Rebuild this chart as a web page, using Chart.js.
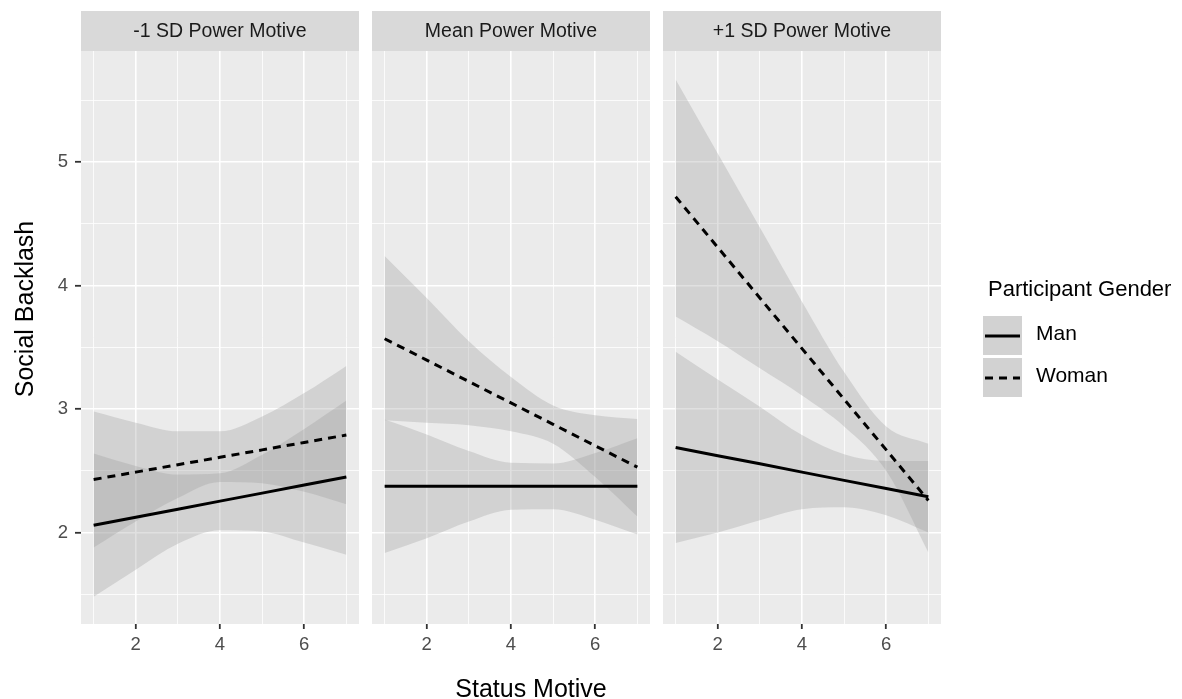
<!DOCTYPE html>
<html>
<head>
<meta charset="utf-8">
<script src="https://cdn.jsdelivr.net/npm/chart.js@4.4.1/dist/chart.umd.min.js"></script>
<style>
  body { margin: 0; background: #fff; }
  #wrap { position: relative; width: 1182px; height: 699px; overflow: hidden; }
  canvas { position: absolute; top: 0; }
</style>
</head>
<body>
<div id="wrap">
  <canvas id="p1" width="359" height="699" style="left:0px"></canvas>
  <canvas id="p2" width="278" height="699" style="left:372px"></canvas>
  <canvas id="p3" width="519" height="699" style="left:663px"></canvas>
</div>
<script>
const statusMotive = [1, 2, 3, 4, 5, 6, 7];
const panelTitles = ["-1 SD Power Motive", "Mean Power Motive", "+1 SD Power Motive"];
const seriesNames = ["Man", "Woman"];
const xMajorTicks = [2, 4, 6];
const xMinorTicks = [1, 3, 5, 7];
const yMajorTicks = [2, 3, 4, 5];
const yMinorTicks = [1.5, 2.5, 3.5, 4.5, 5.5];

// fitted lines, one row per panel
const manFit = [
  [2.06, 2.125, 2.19, 2.255, 2.32, 2.385, 2.45],
  [2.375, 2.375, 2.375, 2.375, 2.375, 2.375, 2.375],
  [2.69, 2.623, 2.557, 2.49, 2.423, 2.357, 2.29]
];
const womanFit = [
  [2.43, 2.49, 2.55, 2.61, 2.67, 2.73, 2.79],
  [3.57, 3.397, 3.223, 3.05, 2.877, 2.703, 2.53],
  [4.72, 4.31, 3.90, 3.49, 3.08, 2.67, 2.26]
];
// confidence bands
const manLower = [
  [1.48, 1.70, 1.91, 2.02, 2.01, 1.92, 1.82],
  [1.835, 1.955, 2.09, 2.185, 2.19, 2.105, 1.985],
  [1.915, 2.00, 2.10, 2.19, 2.205, 2.14, 2.00]
];
const manUpper = [
  [2.64, 2.54, 2.47, 2.48, 2.63, 2.84, 3.07],
  [2.915, 2.795, 2.66, 2.565, 2.56, 2.645, 2.765],
  [3.465, 3.24, 3.02, 2.79, 2.635, 2.58, 2.58]
];
const womanLower = [
  [1.88, 2.09, 2.28, 2.41, 2.40, 2.33, 2.23],
  [2.91, 2.89, 2.87, 2.82, 2.72, 2.45, 2.13],
  [3.75, 3.55, 3.33, 3.11, 2.86, 2.50, 1.84]
];
const womanUpper = [
  [2.98, 2.89, 2.82, 2.82, 2.94, 3.13, 3.35],
  [4.24, 3.90, 3.55, 3.26, 3.03, 2.95, 2.92],
  [5.67, 5.07, 4.47, 3.87, 3.30, 2.86, 2.72]
];

const FONT = "'Liberation Sans', Arial, sans-serif";
const BAND = "rgba(153,153,153,0.3)";
const DASH = [8, 6];
const LINE_W = 3;

const facetPlugin = {
  id: "facet",
  beforeDraw(chart, args, opts) {
    const { ctx, chartArea: a } = chart;
    ctx.save();
    ctx.fillStyle = "#ebebeb";
    ctx.fillRect(a.left, a.top, a.right - a.left, a.bottom - a.top);
    ctx.fillStyle = "#d9d9d9";
    ctx.fillRect(a.left, a.top - 40, a.right - a.left, 40);
    ctx.fillStyle = "#1a1a1a";
    ctx.font = "19.5px " + FONT;
    ctx.textAlign = "center";
    ctx.textBaseline = "alphabetic";
    ctx.fillText(opts.title, (a.left + a.right) / 2, a.top - 13.7);
    ctx.restore();
  },
  afterDraw(chart, args, opts) {
    const { ctx, chartArea: a } = chart;
    ctx.save();
    ctx.fillStyle = "#000";
    ctx.textBaseline = "alphabetic";
    if (opts.yTitle) {
      ctx.font = "25px " + FONT;
      ctx.translate(a.left - 48, 309);
      ctx.rotate(-Math.PI / 2);
      ctx.textAlign = "center";
      ctx.fillText(opts.yTitle, 0, 0);
      ctx.setTransform(1, 0, 0, 1, 0, 0);
    }
    if (opts.xTitle) {
      ctx.font = "25px " + FONT;
      ctx.textAlign = "center";
      ctx.fillText(opts.xTitle, a.left + 159, 697);
    }
    if (opts.legend) {
      const lx = a.right + 42;
      ctx.font = "22px " + FONT;
      ctx.textAlign = "left";
      ctx.fillText("Participant Gender", a.right + 47, 296);
      const keyTops = [316, 358];
      ctx.font = "21px " + FONT;
      seriesNames.forEach((name, k) => {
        const ky = keyTops[k];
        ctx.fillStyle = "#ebebeb";
        ctx.fillRect(lx, ky, 39, 39);
        ctx.fillStyle = BAND;
        ctx.fillRect(lx, ky, 39, 39);
        ctx.strokeStyle = "#000";
        ctx.lineWidth = LINE_W;
        ctx.setLineDash(k === 1 ? DASH : []);
        ctx.beginPath();
        ctx.moveTo(lx + 2, ky + 20);
        ctx.lineTo(lx + 37, ky + 20);
        ctx.stroke();
        ctx.setLineDash([]);
        ctx.fillStyle = "#000";
        ctx.fillText(name, lx + 53, ky + 23.5);
      });
    }
    ctx.restore();
  }
};

function pts(ys) {
  return statusMotive.map((x, k) => ({ x: x, y: ys[k] }));
}

function panelDatasets(i) {
  const band = {
    borderColor: "rgba(0,0,0,0)",
    borderWidth: 0,
    pointRadius: 0,
    backgroundColor: BAND,
    cubicInterpolationMode: "monotone",
    order: 1
  };
  return [
    { label: seriesNames[0], data: pts(manFit[i]), borderColor: "#000", borderWidth: LINE_W, pointRadius: 0, fill: false, order: 0 },
    { label: seriesNames[1], data: pts(womanFit[i]), borderColor: "#000", borderWidth: LINE_W, borderDash: DASH, pointRadius: 0, fill: false, order: 0 },
    Object.assign({}, band, { data: pts(manLower[i]), fill: false }),
    Object.assign({}, band, { data: pts(manUpper[i]), fill: 2 }),
    Object.assign({}, band, { data: pts(womanLower[i]), fill: false }),
    Object.assign({}, band, { data: pts(womanUpper[i]), fill: 4 })
  ];
}

function isMajor(list, v) {
  return list.some((m) => Math.abs(m - v) < 1e-6);
}

function panelScales(i) {
  const tickFont = { family: FONT, size: 18.5 };
  return {
    x: {
      type: "linear",
      min: 0.7,
      max: 7.3,
      afterBuildTicks: (s) => {
        s.ticks = xMinorTicks.concat(xMajorTicks).sort((a, b) => a - b).map((v) => ({ value: v }));
      },
      afterFit: (s) => { s.height = 75; },
      border: { display: false },
      grid: {
        color: "#ffffff",
        lineWidth: (c) => (isMajor(xMajorTicks, c.tick.value) ? 1.6 : 0.8),
        tickColor: (c) => (isMajor(xMajorTicks, c.tick.value) ? "#333333" : "rgba(0,0,0,0)"),
        tickWidth: 1.8,
        tickLength: 5
      },
      ticks: {
        autoSkip: false,
        maxRotation: 0,
        padding: 5,
        color: "#4d4d4d",
        font: tickFont,
        callback: (v) => (isMajor(xMajorTicks, v) ? String(v) : "")
      }
    },
    y: {
      type: "linear",
      min: 1.26,
      max: 5.9,
      afterBuildTicks: (s) => {
        s.ticks = yMinorTicks.concat(yMajorTicks).sort((a, b) => a - b).map((v) => ({ value: v }));
      },
      afterFit: (s) => { s.width = i === 0 ? 81 : 0; },
      border: { display: false },
      grid: {
        color: "#ffffff",
        lineWidth: (c) => (isMajor(yMajorTicks, c.tick.value) ? 1.6 : 0.8),
        drawTicks: i === 0,
        tickColor: (c) => (isMajor(yMajorTicks, c.tick.value) ? "#333333" : "rgba(0,0,0,0)"),
        tickWidth: 1.8,
        tickLength: 6
      },
      ticks: {
        display: i === 0,
        padding: 7,
        color: "#4d4d4d",
        font: tickFont,
        callback: (v) => (isMajor(yMajorTicks, v) ? String(v) : "")
      }
    }
  };
}

["p1", "p2", "p3"].forEach((id, i) => {
  const ctx = document.getElementById(id).getContext("2d");
  new Chart(ctx, {
    type: "line",
    data: { datasets: panelDatasets(i) },
    options: {
      responsive: false,
      animation: false,
      devicePixelRatio: 1,
      events: [],
      layout: { padding: { top: 51, left: 0, right: i === 2 ? 241 : 0, bottom: 0 } },
      scales: panelScales(i),
      plugins: {
        legend: { display: false },
        tooltip: { enabled: false },
        facet: {
          title: panelTitles[i],
          yTitle: i === 0 ? "Social Backlash" : null,
          xTitle: i === 1 ? "Status Motive" : null,
          legend: i === 2
        }
      }
    },
    plugins: [facetPlugin]
  });
});
</script>
</body>
</html>
